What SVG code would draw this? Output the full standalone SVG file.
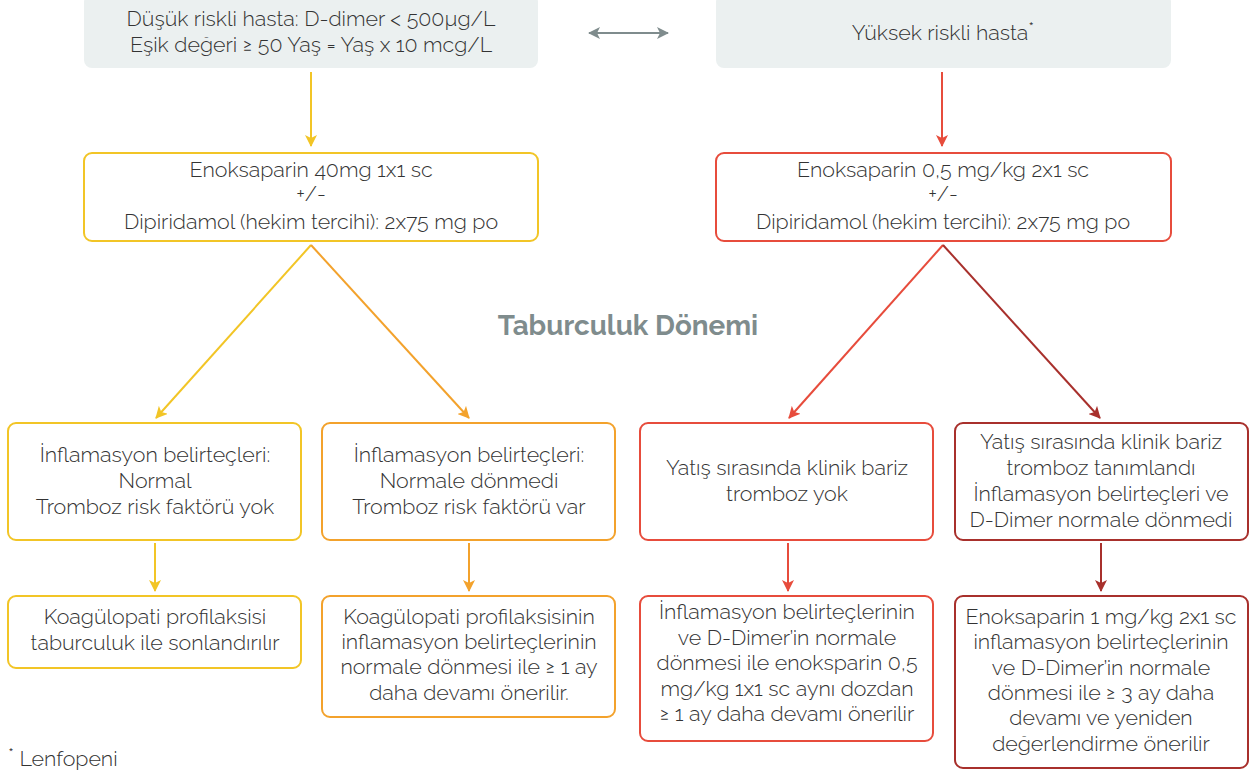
<svg xmlns="http://www.w3.org/2000/svg" width="1253" height="773" viewBox="0 0 1253 773">
<style>
text{font-family:"Raleway","Lato","Open Sans","Liberation Sans",sans-serif;font-size:21.4px;fill:#333;text-anchor:middle;font-weight:300}
.grey{fill:#ebf0f0;stroke:none}
.box{fill:#fff;stroke-width:2}
.y{stroke:#f2c526}.o{stroke:#f3a22c}.r{stroke:#e74c3c}.d{stroke:#a8302c}
.ln{fill:none;stroke-width:2}
.small{font-size:21px}
.title{font-size:27.8px;font-weight:700;fill:#7f8c8d}
.note{text-anchor:start}
</style>
<defs>
<marker id="my" viewBox="0 0 12 12" refX="11" refY="6" markerWidth="12" markerHeight="12" markerUnits="userSpaceOnUse" orient="auto"><path d="M0,0 L12,6 L0,12 L3,6 Z" fill="#f2c526"/></marker>
<marker id="mo" viewBox="0 0 12 12" refX="11" refY="6" markerWidth="12" markerHeight="12" markerUnits="userSpaceOnUse" orient="auto"><path d="M0,0 L12,6 L0,12 L3,6 Z" fill="#f3a22c"/></marker>
<marker id="mr" viewBox="0 0 12 12" refX="11" refY="6" markerWidth="12" markerHeight="12" markerUnits="userSpaceOnUse" orient="auto"><path d="M0,0 L12,6 L0,12 L3,6 Z" fill="#e74c3c"/></marker>
<marker id="md" viewBox="0 0 12 12" refX="11" refY="6" markerWidth="12" markerHeight="12" markerUnits="userSpaceOnUse" orient="auto"><path d="M0,0 L12,6 L0,12 L3,6 Z" fill="#a8302c"/></marker>
<marker id="mg" viewBox="0 0 12 12" refX="11" refY="6" markerWidth="12" markerHeight="12" markerUnits="userSpaceOnUse" orient="auto-start-reverse"><path d="M0,0 L12,6 L0,12 L3,6 Z" fill="#7f8c8d"/></marker>
</defs>

<g id="connectors">
<line x1="589" y1="33" x2="668" y2="33" class="ln" stroke="#7f8c8d" marker-start="url(#mg)" marker-end="url(#mg)"/>
<line x1="311" y1="72" x2="311" y2="146" class="ln y" marker-end="url(#my)"/>
<line x1="942" y1="72" x2="942" y2="146" class="ln r" marker-end="url(#mr)"/>
<line x1="311" y1="245" x2="156" y2="418" class="ln y" marker-end="url(#my)"/>
<line x1="311" y1="245" x2="469" y2="418" class="ln o" marker-end="url(#mo)"/>
<line x1="943" y1="245" x2="789" y2="418" class="ln r" marker-end="url(#mr)"/>
<line x1="943" y1="245" x2="1100" y2="418" class="ln d" marker-end="url(#md)"/>
<line x1="155" y1="543" x2="155" y2="591" class="ln y" marker-end="url(#my)"/>
<line x1="469" y1="543" x2="469" y2="591" class="ln o" marker-end="url(#mo)"/>
<line x1="788" y1="543" x2="788" y2="591" class="ln r" marker-end="url(#mr)"/>
<line x1="1101" y1="543" x2="1101" y2="591" class="ln d" marker-end="url(#md)"/>
</g>

<g id="low-risk">
<rect x="84" y="-6" width="454" height="74" rx="8" class="grey"/>
<text x="311" y="26">Düşük riskli hasta: D-dimer &lt; 500µg/L</text>
<text x="311" y="52">Eşik değeri ≥ 50 Yaş = Yaş x 10 mcg/L</text>
</g>

<g id="high-risk">
<rect x="716" y="-6" width="455" height="74" rx="8" class="grey"/>
<text x="943" y="40">Yüksek riskli hasta<tspan font-size="19" dy="-5">*</tspan></text>
</g>

<g id="low-treatment">
<rect x="84" y="153" width="454" height="88" rx="8" class="box y"/>
<text x="311" y="177">Enoksaparin 40mg 1x1 sc</text>
<text x="311" y="201" class="small">+/-</text>
<text x="311" y="229">Dipiridamol (hekim tercihi): 2x75 mg po</text>
</g>

<g id="high-treatment">
<rect x="716" y="153" width="455" height="88" rx="8" class="box r"/>
<text x="943" y="177">Enoksaparin 0,5 mg/kg 2x1 sc</text>
<text x="943" y="201" class="small">+/-</text>
<text x="943" y="229">Dipiridamol (hekim tercihi): 2x75 mg po</text>
</g>

<g id="title"><text x="628" y="335" class="title">Taburculuk Dönemi</text></g>

<g id="n1">
<rect x="8" y="423" width="293" height="117" rx="8" class="box y"/>
<text x="155" y="462">İnflamasyon belirteçleri:</text>
<text x="155" y="488">Normal</text>
<text x="155" y="514">Tromboz risk faktörü yok</text>
</g>
<g id="n2">
<rect x="322" y="423" width="293" height="117" rx="8" class="box o"/>
<text x="469" y="462">İnflamasyon belirteçleri:</text>
<text x="469" y="488">Normale dönmedi</text>
<text x="469" y="514">Tromboz risk faktörü var</text>
</g>
<g id="n3">
<rect x="640" y="423" width="293" height="117" rx="8" class="box r"/>
<text x="787" y="475">Yatış sırasında klinik bariz</text>
<text x="787" y="501">tromboz yok</text>
</g>
<g id="n4">
<rect x="955" y="423" width="293" height="117" rx="8" class="box d"/>
<text x="1101" y="449">Yatış sırasında klinik bariz</text>
<text x="1101" y="475">tromboz tanımlandı</text>
<text x="1101" y="501">İnflamasyon belirteçleri ve</text>
<text x="1101" y="527">D-Dimer normale dönmedi</text>
</g>

<g id="r1">
<rect x="8" y="596" width="293" height="72" rx="8" class="box y"/>
<text x="155" y="624">Koagülopati profilaksisi</text>
<text x="155" y="650">taburculuk ile sonlandırılır</text>
</g>
<g id="r2">
<rect x="322" y="596" width="293" height="121" rx="8" class="box o"/>
<text x="469" y="624">Koagülopati profilaksisinin</text>
<text x="469" y="649">inflamasyon belirteçlerinin</text>
<text x="469" y="674">normale dönmesi ile ≥ 1 ay</text>
<text x="469" y="700">daha devamı önerilir.</text>
</g>
<g id="r3">
<rect x="640" y="596" width="293" height="145" rx="8" class="box r"/>
<text x="787" y="619">İnflamasyon belirteçlerinin</text>
<text x="787" y="645">ve D-Dimer’in normale</text>
<text x="787" y="670">dönmesi ile enoksparin 0,5</text>
<text x="787" y="696">mg/kg 1x1 sc aynı dozdan</text>
<text x="787" y="721">≥ 1 ay daha devamı önerilir</text>
</g>
<g id="r4">
<rect x="955" y="596" width="293" height="172" rx="8" class="box d"/>
<text x="1101" y="624">Enoksaparin 1 mg/kg 2x1 sc</text>
<text x="1101" y="649">inflamasyon belirteçlerinin</text>
<text x="1101" y="675">ve D-Dimer’in normale</text>
<text x="1101" y="700">dönmesi ile ≥ 3 ay daha</text>
<text x="1101" y="725">devamı ve yeniden</text>
<text x="1101" y="751">değerlendirme önerilir</text>
</g>

<g id="footnote"><text x="8" y="766" class="note"><tspan font-size="19" dy="-5">*</tspan><tspan dy="5"> Lenfopeni</tspan></text></g>
</svg>
